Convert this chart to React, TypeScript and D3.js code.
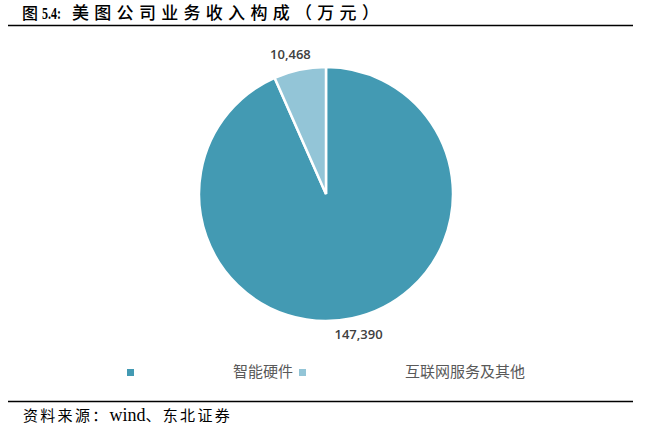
import React from 'react';
import * as d3 from 'd3';

const categories = ['智能硬件', '互联网服务及其他'];
const values = [147390, 10468];
const colors = ['#439AB3', '#93C5D7'];

const width = 657;
const height = 428;
const cx = 326;
const cy = 194;
const radius = 127;

const cjk = "'Noto Sans CJK SC', sans-serif";
const serif = "'Liberation Serif', 'Times New Roman', serif";

const App: React.FC = () => {
  const pie = d3.pie<number>().sort(null).value(d => d)(values);
  const arc = d3.arc<d3.PieArcDatum<number>>().innerRadius(0).outerRadius(radius);
  const fmt = d3.format(',');

  // position des étiquettes : hors de la part, selon l'angle médian
  const labelPos = pie.map(p => {
    const mid = (p.startAngle + p.endAngle) / 2;
    const r = radius + 16;
    return [Math.sin(mid) * r, -Math.cos(mid) * r];
  });
  const labelShift = [[3, 0], [-6, 0]];

  return (
    <svg width={width} height={height} style={{ position: 'absolute', left: 0, top: 0, background: '#fff' }}>
      {/* titre */}
      <text x={22} y={19} fontFamily={cjk} fontWeight={500} fontSize={16} fill="#000">图</text>
      <text x={42} y={19} fontFamily={serif} fontWeight="bold" fontSize={17} fill="#000"
        textLength={19} lengthAdjust="spacingAndGlyphs">5.4:</text>
      <text x={72} y={19} fontFamily={cjk} fontWeight={500} fontSize={17} letterSpacing={5.3} fill="#000">
        美图公司业务收入构成（万元）
      </text>
      <line x1={8} x2={633} y1={25.5} y2={25.5} stroke="#000" strokeWidth={1.5} />

      <g transform={`translate(${cx},${cy})`}>
        {pie.map((p, i) => (
          <path key={i} d={arc(p) || ''} fill={colors[i]} stroke="#fff" strokeWidth={2.5} />
        ))}
      </g>

      {/* étiquettes des valeurs */}
      {values.map((v, i) => (
        <text key={i} x={cx + labelPos[i][0] + labelShift[i][0]} y={cy + labelPos[i][1] + 5}
          textAnchor="middle" fontFamily="'Open Sans', 'Noto Sans', sans-serif" fontSize={13}
          fontWeight={600} fill="#404040">
          {fmt(v)}
        </text>
      ))}

      {/* légende */}
      <rect x={127} y={369} width={7} height={7} fill={colors[0]} />
      <text x={293} y={377} textAnchor="end" fontFamily={cjk} fontSize={15} fill="#595959">
        {categories[0]}
      </text>
      <rect x={299} y={369} width={7} height={7} fill={colors[1]} />
      <text x={525} y={377} textAnchor="end" fontFamily={cjk} fontSize={15} fill="#595959">
        {categories[1]}
      </text>

      {/* source */}
      <line x1={8} x2={633} y1={401.5} y2={401.5} stroke="#000" strokeWidth={1.5} />
      <text x={23} y={421} fontSize={15} fill="#000">
        <tspan fontFamily={cjk} letterSpacing={2.3}>资料来源：</tspan>
        <tspan fontFamily={serif} fontSize={18}>wind</tspan>
        <tspan fontFamily={cjk} letterSpacing={2.3}>、东北证券</tspan>
      </text>
    </svg>
  );
};

export default App;
